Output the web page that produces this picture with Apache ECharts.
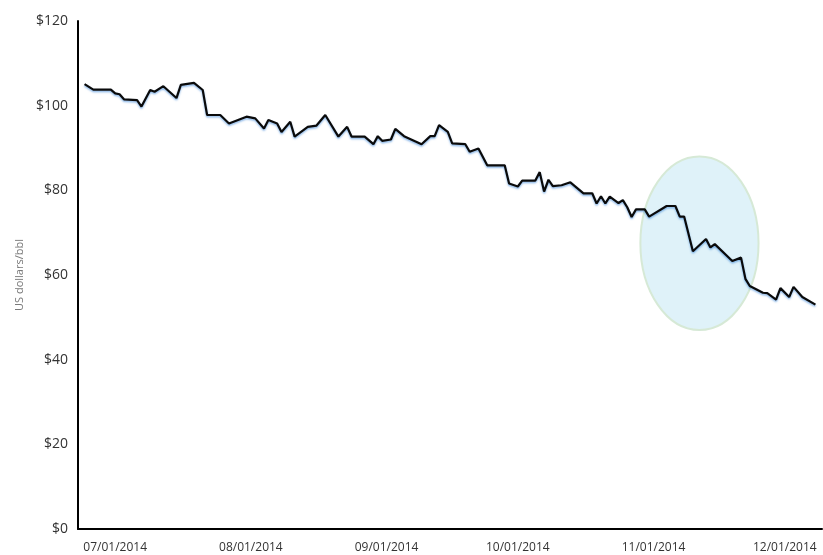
<!DOCTYPE html>
<html>
<head>
<meta charset="utf-8">
<script src="https://cdn.jsdelivr.net/npm/echarts@6/dist/echarts.min.js"></script>
<style>
html,body{margin:0;padding:0;background:#fff;}
#chart{width:823px;height:555px;}
</style>
</head>
<body>
<div id="chart"></div>
<script>
// ---- data ----
const axisRange = ['06/23/2014', '12/09/2014'];
const dates = [
 '06/24/2014','06/26/2014','06/30/2014','07/01/2014','07/02/2014','07/03/2014','07/06/2014','07/07/2014',
 '07/09/2014','07/10/2014','07/12/2014','07/15/2014','07/16/2014','07/19/2014','07/21/2014','07/22/2014',
 '07/25/2014','07/27/2014','07/31/2014','08/02/2014','08/04/2014','08/05/2014','08/07/2014','08/08/2014',
 '08/10/2014','08/11/2014','08/14/2014','08/16/2014','08/18/2014','08/21/2014','08/23/2014','08/24/2014',
 '08/27/2014','08/29/2014','08/30/2014','08/31/2014','09/02/2014','09/03/2014','09/05/2014','09/09/2014',
 '09/11/2014','09/12/2014','09/13/2014','09/15/2014','09/16/2014','09/19/2014','09/20/2014','09/22/2014',
 '09/24/2014','09/28/2014','09/29/2014','10/01/2014','10/02/2014','10/05/2014','10/06/2014','10/07/2014',
 '10/08/2014','10/09/2014','10/11/2014','10/13/2014','10/16/2014','10/18/2014','10/19/2014','10/20/2014',
 '10/21/2014','10/22/2014','10/24/2014','10/25/2014','10/26/2014','10/27/2014','10/28/2014','10/30/2014',
 '10/31/2014','11/04/2014','11/06/2014','11/07/2014','11/08/2014','11/10/2014','11/13/2014','11/14/2014',
 '11/15/2014','11/19/2014','11/21/2014','11/22/2014','11/23/2014','11/26/2014','11/27/2014','11/29/2014',
 '11/30/2014','12/02/2014','12/03/2014','12/05/2014','12/08/2014'
];
const prices = [
 105.1,103.8,103.8,102.9,102.7,101.5,101.3,99.8,
 103.7,103.3,104.6,101.8,104.9,105.4,103.7,97.8,
 97.8,95.8,97.4,97.0,94.6,96.6,95.8,93.8,
 96.2,92.7,95.0,95.3,97.8,92.7,95.0,92.7,
 92.7,90.9,92.8,91.7,92.0,94.5,92.8,90.9,
 92.8,92.8,95.4,93.8,91.1,90.9,89.1,89.9,
 85.9,85.9,81.6,80.9,82.3,82.3,84.3,79.7,
 82.5,81.0,81.2,81.9,79.3,79.3,76.9,78.6,
 76.9,78.5,77.0,77.7,76.0,73.7,75.5,75.5,
 73.8,76.3,76.3,73.8,73.8,65.6,68.5,66.5,
 67.3,63.3,64.1,59.1,57.4,55.8,55.7,54.2,
 56.9,54.8,57.2,54.8,53.0
];
const yTicks = [0, 20, 40, 60, 80, 100, 120];
const highlightDates = ['10/29/2014', '11/25/2014'];
const highlightValues = [47, 88];

// ---- build calendar categories ----
function parseD(s){ const [m,d,y] = s.split('/').map(Number); return Date.UTC(y, m-1, d); }
function fmtD(t){ const dt = new Date(t); const p = n => String(n).padStart(2,'0');
  return p(dt.getUTCMonth()+1) + '/' + p(dt.getUTCDate()) + '/' + dt.getUTCFullYear(); }
const categories = [];
for (let t = parseD(axisRange[0]); t <= parseD(axisRange[1]); t += 86400000) categories.push(fmtD(t));
const priceMap = {};
dates.forEach((d, i) => priceMap[d] = prices[i]);
const lineData = categories.map(c => (c in priceMap ? priceMap[c] : null));

const chart = echarts.init(document.getElementById('chart'), null, {renderer: 'canvas'});
chart.setOption({
  animation: false,
  backgroundColor: '#ffffff',
  grid: {left: 78, right: 1, top: 21, bottom: 26, containLabel: false},
  xAxis: {
    type: 'category',
    data: categories,
    boundaryGap: true,
    axisLine: {show: true, lineStyle: {color: '#000', width: 2}},
    axisTick: {show: false},
    splitLine: {show: false},
    axisLabel: {
      interval: (idx, val) => val.slice(3, 5) === '01',
      color: '#333', fontSize: 12, fontFamily: 'Open Sans', margin: 13
    }
  },
  yAxis: {
    type: 'value',
    min: yTicks[0], max: yTicks[yTicks.length - 1], interval: 20,
    name: 'US dollars/bbl',
    nameLocation: 'middle',
    nameGap: 53,
    nameRotate: 90,
    nameTextStyle: {color: '#7a7a7a', fontSize: 11, fontFamily: 'Open Sans'},
    axisLine: {show: true, lineStyle: {color: '#000', width: 2}},
    axisTick: {show: false},
    splitLine: {show: false},
    axisLabel: {formatter: v => '$' + v, color: '#333', fontSize: 14, fontFamily: 'Open Sans', margin: 10}
  },
  series: [
    {
      type: 'custom',
      z: 1,
      silent: true,
      encode: {x: [0, 2], y: [1, 3]},
      data: [[categories.indexOf(highlightDates[0]), highlightValues[0],
              categories.indexOf(highlightDates[1]), highlightValues[1]]],
      renderItem: (params, api) => {
        const p1 = api.coord([api.value(0), api.value(3)]);
        const p2 = api.coord([api.value(2), api.value(1)]);
        return {
          type: 'ellipse',
          shape: {cx: (p1[0] + p2[0]) / 2, cy: (p1[1] + p2[1]) / 2,
                  rx: Math.abs(p2[0] - p1[0]) / 2, ry: Math.abs(p2[1] - p1[1]) / 2},
          style: {fill: '#dff2f9', stroke: '#d6e9d6', lineWidth: 2}
        };
      }
    },
    {
      type: 'line',
      z: 3,
      data: lineData,
      connectNulls: true,
      showSymbol: false,
      symbol: 'none',
      lineStyle: {color: '#0a0a0a', width: 2.2,
        shadowColor: 'rgba(20,110,210,0.5)', shadowBlur: 2, shadowOffsetY: 1.5}
    }
  ]
});
</script>
</body>
</html>
